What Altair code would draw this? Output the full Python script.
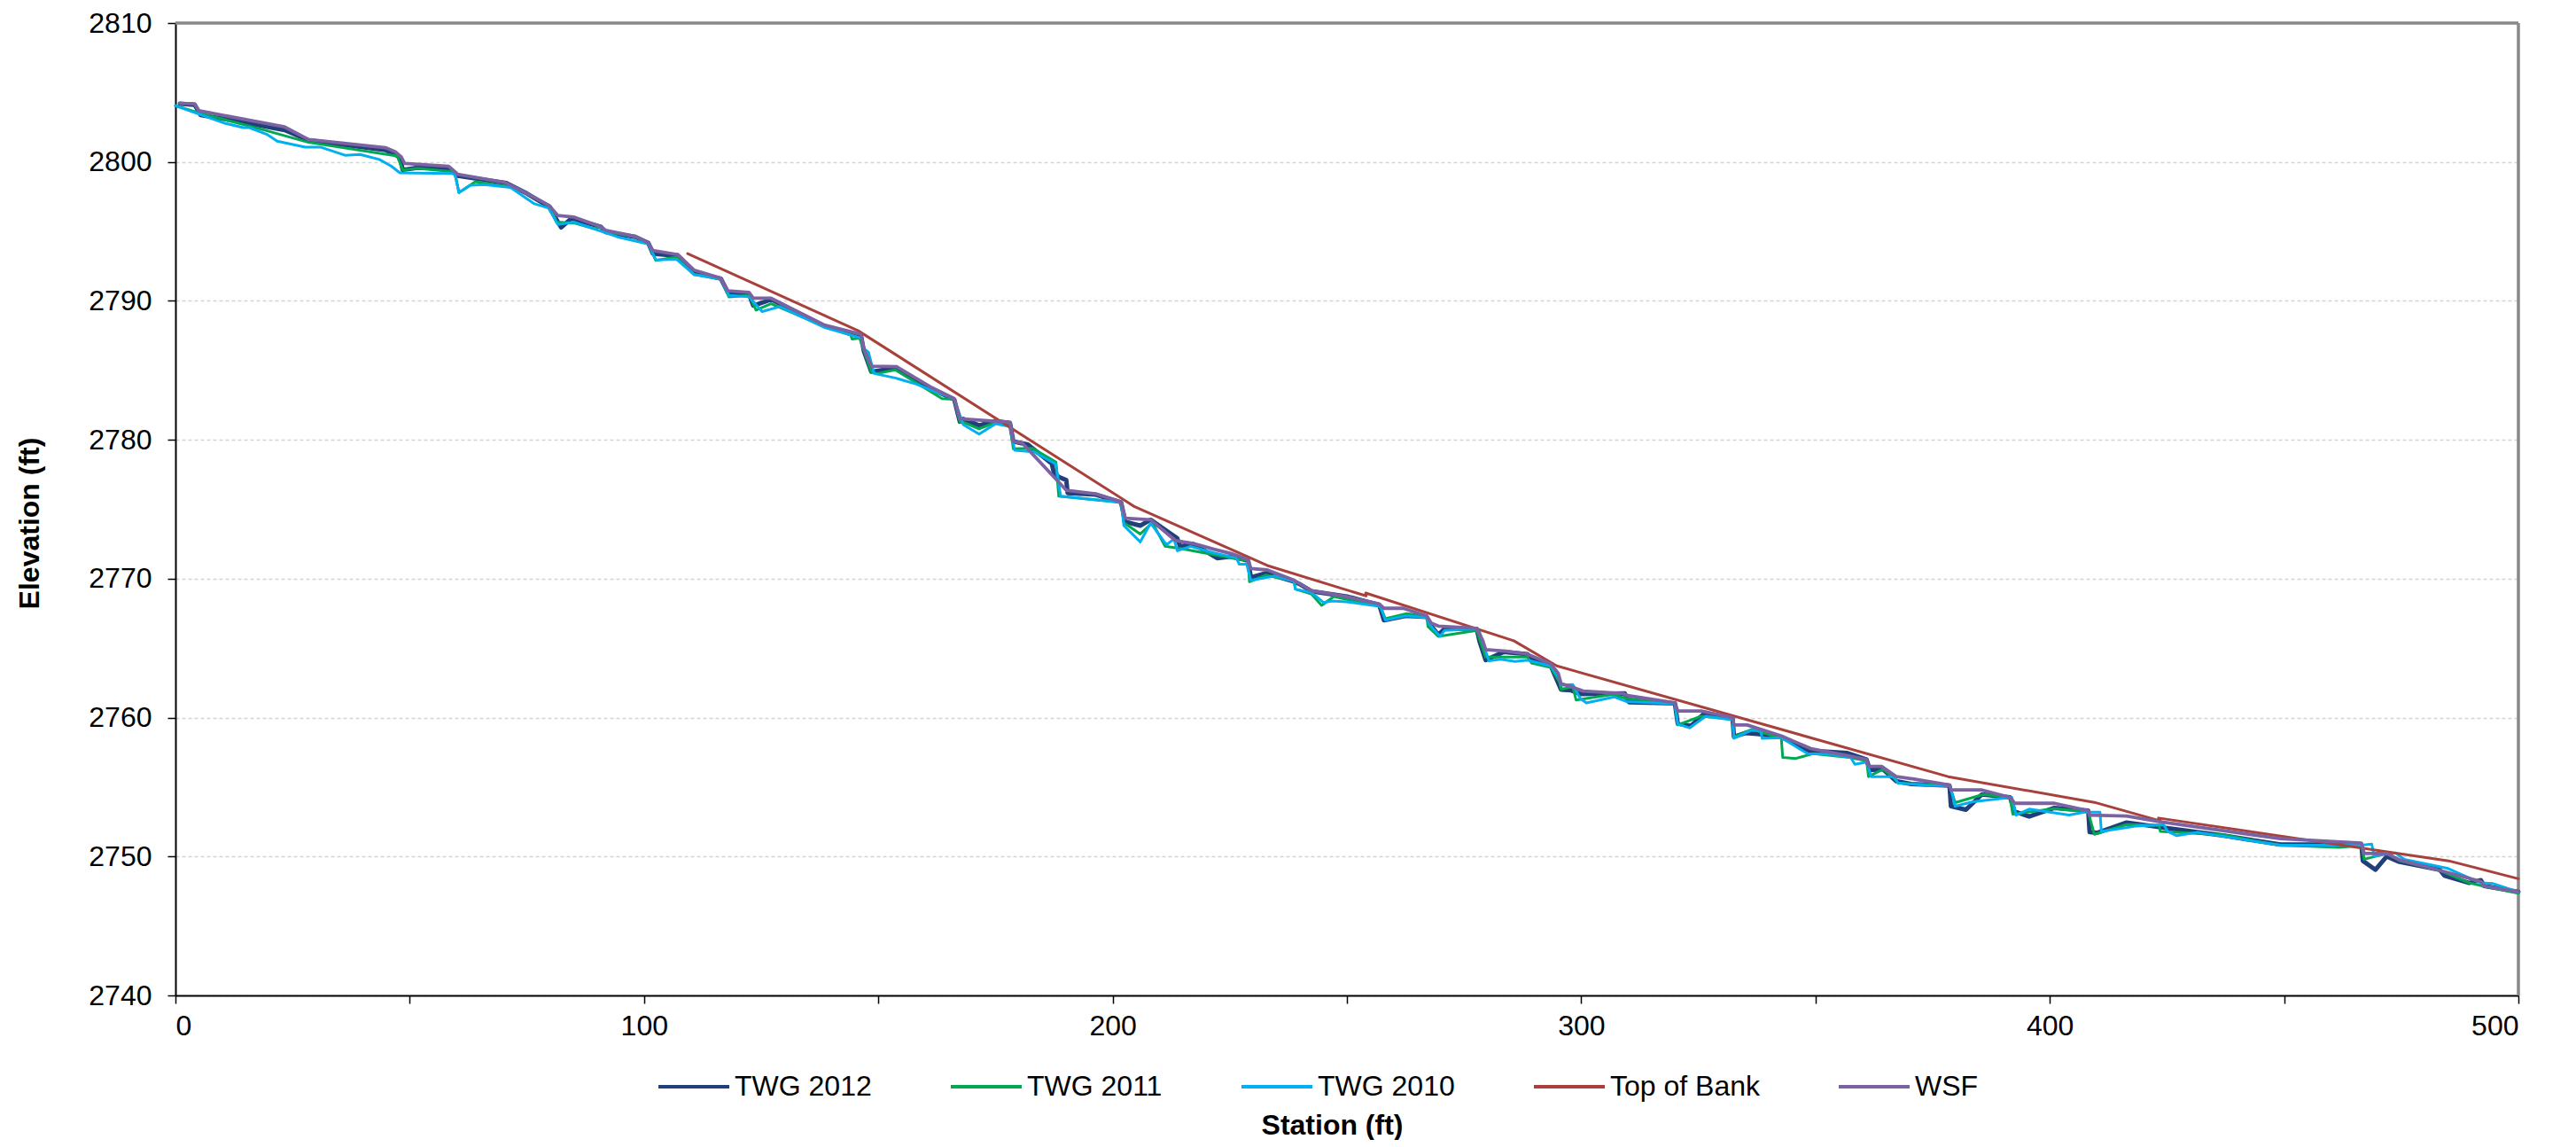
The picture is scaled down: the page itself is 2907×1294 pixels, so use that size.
import altair as alt
import pandas as pd

SERIES = ["TWG 2012", "TWG 2011", "TWG 2010", "Top of Bank", "WSF"]
COLORS = ["#213F7A", "#00A950", "#00B0F0", "#A8413B", "#7B62A2"]
WIDTHS = [5.0, 3.0, 3.0, 3.0, 3.8]

twg2012_st = [0.95, 4.1, 5.4, 11.3, 23.3, 28.4, 44.8, 47.9, 48.5, 51.7, 58.3, 60.2, 70.6, 75.0, 79.7, 82.3, 84.5,
              90.8, 91.8, 98.1, 100.9, 101.9, 107.2, 110.7, 116.4, 117.9, 122.4, 123.3, 125.5, 127.1, 129.6, 138.4,
              146.3, 146.9, 148.5, 151.5, 153.9, 161.1, 166.2, 167.4,
              168.1, 171.5, 175.0, 178.1, 178.8, 181.9, 187.0, 187.5, 188.5, 190.1, 190.4, 196.4, 201.8, 202.7, 205.9,
              208.1, 213.8, 214.4, 217.2, 222.3, 225.4, 228.9, 229.5, 232.7, 238.7, 239.9, 242.4, 250.0,
              256.9, 257.9, 262.6, 267.0, 268.0, 269.5, 270.8, 277.7, 278.3, 279.6, 283.4, 288.5, 289.7, 293.5, 295.7,
              297.9, 299.8, 309.3, 310.2, 320.0, 320.6, 323.4, 326.3, 332.3, 332.6,
              335.1, 337.6, 342.7, 348.6, 356.8, 360.9, 361.6, 364.4, 367.2, 370.4, 378.6, 378.9, 382.1, 385.5, 391.5,
              392.5, 395.6, 401.0, 408.2, 408.5, 410.1, 416.4,
              423.3, 437.2, 449.2, 466.5, 466.8, 469.5, 471.9, 474.4, 483.2, 484.2, 489.5, 492.0, 492.7, 500.0]
twg2012_el = [2804.2, 2804.12, 2803.37, 2803.05, 2802.3, 2801.56, 2800.86, 2800.35, 2799.43, 2799.58, 2799.54, 2799.0,
              2798.48, 2797.73, 2796.78, 2795.29, 2795.93,
              2795.33, 2794.95, 2794.6, 2794.18, 2793.4, 2793.25, 2792.0, 2791.6, 2790.6, 2790.5, 2789.66, 2789.9,
              2790.1, 2789.7, 2788.2, 2787.5, 2786.4, 2784.9, 2785.05, 2785.1, 2783.7, 2782.9, 2781.3,
              2781.5, 2781.04, 2781.35, 2781.2, 2779.88, 2779.66, 2778.28, 2777.6, 2777.33, 2777.1, 2776.16, 2776.05,
              2775.5, 2774.1, 2773.82, 2774.24, 2772.9, 2772.33, 2772.5, 2771.48, 2771.6, 2771.3, 2770.1, 2770.4,
              2769.8, 2769.61, 2769.1, 2768.72,
              2768.12, 2767.01, 2767.33, 2767.25, 2766.6, 2765.95, 2766.38, 2766.38, 2765.5, 2764.14, 2764.72,
              2764.57, 2764.14, 2763.72, 2762.02, 2761.96, 2761.7, 2761.74, 2761.11, 2761.02, 2759.57, 2759.4,
              2760.32, 2759.95, 2758.62,
              2758.89, 2758.83, 2758.6, 2757.62, 2757.45, 2756.98, 2756.22, 2756.28, 2755.43, 2755.22, 2755.1,
              2753.62, 2753.37, 2754.47, 2754.26, 2753.24, 2752.88, 2753.5, 2753.3, 2751.75, 2751.71, 2752.45,
              2752.13, 2751.5, 2750.86, 2750.86, 2749.69, 2749.05, 2750.01, 2749.63, 2749.05, 2748.63, 2748.1,
              2748.3, 2747.88, 2747.46]

twg2011_st = [0.0, 5.7, 18.9, 28.4, 47.3, 48.5, 51.7, 59.6, 60.5, 64.0, 71.2, 74.4, 80.1, 81.3, 85.1,
              89.6, 90.8, 91.8, 98.1, 100.9, 102.5, 106.9, 110.7, 116.4, 118.1, 122.4, 123.9, 127.1, 137.8, 144.1,
              144.4, 146.0, 148.5, 149.8, 153.6, 163.6, 166.2, 167.4,
              168.1, 171.5, 175.0, 178.1, 178.8, 182.9, 187.9, 188.5, 201.8, 202.4, 205.9, 208.5, 211.2, 214.7,
              226.1, 228.9, 229.2, 232.7, 238.7, 239.0, 242.4, 244.6, 247.2, 250.0,
              256.9, 258.2, 262.6, 267.0, 267.3, 269.5, 277.7, 279.6, 288.5, 289.4, 293.5, 295.4, 295.7, 298.2,
              298.9, 306.7, 309.6, 320.0, 320.6, 323.1, 325.6, 332.3, 332.6,
              336.4, 342.7, 343.0, 345.8, 349.6, 357.2, 360.9, 361.3, 364.4, 367.2, 367.6, 378.6, 379.8, 385.8,
              391.5, 392.1, 401.0, 408.2, 409.5, 416.4,
              423.3, 423.6, 437.2, 444.1, 449.2, 461.8, 466.5, 467.1, 471.9, 474.7, 483.2, 489.5, 492.7, 500.0]
twg2011_el = [2804.05, 2803.47, 2802.3, 2801.41, 2800.43, 2799.43, 2799.54, 2799.29, 2797.8, 2798.58, 2798.22,
              2797.84, 2796.78, 2795.67, 2795.6,
              2795.18, 2795.33, 2795.0, 2794.6, 2794.15, 2792.91, 2793.16, 2791.89, 2791.63, 2790.29, 2790.4,
              2789.34, 2789.8, 2788.27, 2787.53, 2787.25, 2787.32, 2784.87, 2784.77, 2785.04, 2782.96, 2782.92,
              2781.3,
              2781.26, 2780.79, 2781.25, 2781.04, 2779.35, 2779.39, 2778.39, 2775.94, 2775.5, 2774.03, 2773.22,
              2774.03, 2772.33, 2772.16, 2771.44, 2771.3, 2769.78, 2770.25, 2769.85, 2769.25, 2768.9, 2768.08,
              2768.72, 2768.5,
              2768.08, 2767.12, 2767.48, 2767.33, 2766.55, 2765.85, 2766.27, 2764.36, 2764.36, 2763.93, 2763.6,
              2762.55, 2762.02, 2762.23, 2761.27, 2761.66, 2761.38, 2761.06, 2759.47, 2759.79, 2760.1, 2759.9,
              2758.62,
              2759.15, 2758.5, 2757.13, 2757.06, 2757.41, 2757.13, 2756.9, 2755.75, 2756.28, 2755.53, 2755.28,
              2755.1, 2753.88, 2754.47, 2754.26, 2753.05, 2753.45, 2753.2, 2751.6, 2752.3,
              2752.25, 2751.8, 2751.55, 2751.11, 2750.82, 2750.65, 2750.8, 2749.8, 2750.22, 2749.7, 2749.0, 2748.1,
              2747.85, 2747.35]

twg2010_st = [0.0, 10.7, 14.5, 15.8, 19.5, 21.7, 27.7, 30.9, 36.2, 39.4, 43.5, 46.0, 47.9, 59.6, 60.5, 63.0, 65.9,
              71.5, 76.6, 79.7, 81.6, 85.1,
              94.3, 100.9, 102.5, 106.9, 110.7, 116.4, 118.1, 122.4, 125.2, 129.0, 138.4, 146.3, 146.9, 147.9,
              149.1, 153.6, 158.0, 162.4, 166.2, 168.1,
              171.5, 175.0, 178.1, 179.1, 183.2, 187.9, 188.9, 201.8, 202.4, 205.9, 208.1, 211.5, 213.1, 213.8,
              216.6, 221.6, 226.4, 227.0, 228.6, 229.5, 234.6, 238.7, 239.0, 242.4, 245.0, 246.9, 250.0,
              257.2, 258.2, 262.6, 267.0, 267.6, 269.9, 270.8, 277.7, 278.3, 279.0, 280.3, 282.8, 285.9, 288.5,
              293.5, 295.4, 295.7, 298.2, 299.8, 301.1, 307.0, 309.6, 320.0, 320.6, 323.1, 326.6, 332.3, 332.6,
              336.4, 338.3, 338.6, 342.7, 348.3, 353.3, 357.5, 358.4, 360.9, 361.9, 366.6, 367.6, 374.2, 378.6,
              378.9, 379.8, 383.6, 391.9, 392.8, 395.6, 404.1, 407.6, 410.7, 411.0, 418.3,
              424.3, 425.2, 427.1, 431.5, 443.5, 449.2, 466.5, 468.7, 469.2, 473.8, 475.6, 484.8, 489.8, 492.0,
              494.6, 500.0]
twg2010_el = [2804.05, 2802.77, 2802.47, 2802.47, 2801.99, 2801.5, 2801.07, 2801.07, 2800.48, 2800.54, 2800.18,
              2799.71, 2799.22, 2799.16, 2797.8, 2798.33, 2798.37, 2798.16, 2796.99, 2796.67, 2795.5, 2795.67,
              2794.61, 2794.1, 2792.95, 2793.0, 2791.89, 2791.55, 2790.4, 2790.3, 2789.23, 2789.59, 2788.1,
              2787.32, 2786.57, 2786.3, 2784.77, 2784.45, 2784.02, 2783.43, 2782.96, 2781.09,
              2780.41, 2781.15, 2780.95, 2779.24, 2779.13, 2778.25, 2775.94, 2775.5, 2773.82, 2772.65, 2774.0,
              2772.44, 2772.86, 2772.01, 2772.33, 2771.86, 2771.5, 2771.05, 2771.05, 2769.88, 2770.2, 2769.8,
              2769.25, 2769.0, 2768.29, 2768.4, 2768.33,
              2768.0, 2767.02, 2767.33, 2767.2, 2766.7, 2765.85, 2766.27, 2766.38, 2766.16, 2765.4, 2764.08,
              2764.2, 2764.04, 2764.14, 2763.72, 2762.76, 2762.34, 2762.38, 2761.38, 2761.06, 2761.49, 2761.16,
              2761.0, 2759.53, 2759.26, 2760.1, 2759.83, 2758.51,
              2759.1, 2759.05, 2758.51, 2758.55, 2757.41, 2757.35, 2757.13, 2756.64, 2756.8, 2755.75, 2755.75,
              2755.3, 2755.1, 2755.1, 2754.9, 2753.62, 2753.94, 2754.26, 2752.98, 2753.41, 2752.98, 2753.2,
              2753.2, 2751.81, 2752.18,
              2752.28, 2751.8, 2751.5, 2751.75, 2751.1, 2750.82, 2750.82, 2750.9, 2750.05, 2750.26, 2749.8,
              2749.16, 2748.41, 2748.1, 2748.05, 2747.46]

bank_st = [109.3, 145.7, 204.6, 233.0, 254.1, 254.0, 285.6, 294.8, 378.3, 409.5, 423.6, 423.2, 485.1, 500.0]
bank_el = [2793.4, 2787.85, 2775.2, 2770.95, 2768.76, 2768.97, 2765.53, 2763.72, 2755.75, 2753.9, 2752.56,
           2752.77, 2749.69, 2748.4]

wsf_st = [0.95, 4.1, 5.0, 23.3, 28.4, 44.8, 47.0, 48.2, 48.9, 58.3, 60.2, 70.3, 74.4, 79.7, 81.6, 85.1,
          90.8, 91.8, 98.1, 100.9, 101.9, 107.2, 110.7, 116.4, 117.9, 122.4, 123.3, 127.1, 129.6, 138.4, 146.3,
          146.9, 148.5, 153.9, 161.1, 166.2, 167.4,
          178.1, 178.8, 180.7, 190.1, 196.4, 201.8, 202.7, 208.1, 213.4, 217.2, 221.6, 225.4, 228.9, 229.5,
          233.0, 238.7, 242.4, 250.0,
          256.9, 257.9, 262.0, 267.0, 268.0, 269.5, 277.7, 279.0, 279.6, 284.0, 288.5, 293.5, 295.1, 295.7,
          297.9, 300.4, 308.9, 309.9, 320.0, 320.6, 325.6, 332.3, 332.6,
          335.4, 342.7, 349.0, 357.2, 360.9, 361.3, 364.1, 367.2, 371.0, 378.6, 378.9, 385.5, 391.5, 392.5,
          401.0, 408.2, 408.5, 416.4,
          423.3, 449.2, 466.5, 467.1, 471.9, 474.7, 483.8, 492.0, 492.7, 500.0]
wsf_el = [2804.22, 2804.18, 2803.69, 2802.52, 2801.62, 2801.03, 2800.71, 2800.35, 2799.9, 2799.69, 2799.12,
          2798.52, 2797.84, 2796.88, 2796.14, 2796.03,
          2795.33, 2795.08, 2794.65, 2794.18, 2793.63, 2793.33, 2792.21, 2791.63, 2790.72, 2790.61, 2790.19,
          2790.19, 2789.76, 2788.27, 2787.59, 2786.57, 2785.3, 2785.26, 2783.81, 2782.96, 2781.51,
          2781.26, 2779.88, 2779.77, 2776.37, 2776.11, 2775.52, 2774.35, 2774.24, 2772.75, 2772.54, 2772.12,
          2771.8, 2771.37, 2770.73, 2770.63, 2769.89, 2769.14, 2768.7,
          2768.18, 2767.87, 2767.87, 2767.33, 2766.8, 2766.59, 2766.42, 2765.53, 2764.89, 2764.78, 2764.57,
          2763.87, 2763.19, 2762.44, 2762.23, 2761.91, 2761.74, 2761.59, 2761.06, 2760.47, 2760.47, 2760.0,
          2759.47,
          2759.47, 2758.68, 2757.77, 2757.24, 2756.98, 2756.49, 2756.49, 2755.75, 2755.58, 2755.15, 2754.79,
          2754.79, 2754.26, 2753.83, 2753.83, 2753.3, 2752.98, 2752.92,
          2752.52, 2751.28, 2750.97, 2750.22, 2750.22, 2749.75, 2748.95, 2748.2, 2747.88, 2747.46]

rows = []
for name, st, el in [("TWG 2012", twg2012_st, twg2012_el), ("TWG 2011", twg2011_st, twg2011_el),
                     ("TWG 2010", twg2010_st, twg2010_el), ("Top of Bank", bank_st, bank_el),
                     ("WSF", wsf_st, wsf_el)]:
    for i, (s, e) in enumerate(zip(st, el)):
        rows.append({"series": name, "station": s, "elev": e, "idx": i})
df = pd.DataFrame(rows)

FONT = "Liberation Sans"
W, H = 2644, 1097

x = alt.X("station:Q", scale=alt.Scale(domain=[0, 500], nice=False),
          axis=alt.Axis(title="Station (ft)", values=list(range(0, 501, 50)), format="d",
                        labelExpr="datum.value % 100 == 0 ? datum.label : ''",
                        grid=False, tickSize=9, tickColor="#000000", tickWidth=1.5,
                        domainColor="#000000", domainWidth=2, labelPadding=10,
                        labelFontSize=32, labelFont=FONT, labelColor="#000000",
                        titleFontSize=32, titleFont=FONT, titleFontWeight="bold", titleColor="#000000",
                        titleX=1305, titleY=146, titleBaseline="middle", titleAnchor="start",
                        titleAlign="center"))
y = alt.Y("elev:Q", scale=alt.Scale(domain=[2740, 2810], nice=False, zero=False),
          axis=alt.Axis(title="Elevation (ft)", values=list(range(2740, 2811, 10)), format="d",
                        grid=True, gridColor="#D4D4D4", gridDash=[4, 3], gridWidth=1.5,
                        tickSize=9, tickColor="#000000", tickWidth=1.5,
                        domainColor="#000000", domainWidth=2, labelPadding=18,
                        labelFontSize=32, labelFont=FONT, labelColor="#000000",
                        titleFontSize=32, titleFont=FONT, titleFontWeight="bold", titleColor="#000000",
                        titleAngle=270, titleX=-165, titleY=564, titleBaseline="middle",
                        titleAlign="center", titleAnchor="start"))
color = alt.Color("series:N", scale=alt.Scale(domain=SERIES, range=COLORS),
                  legend=alt.Legend(title=None, orient="none", legendX=543, legendY=1158,
                                    direction="horizontal", columns=5, symbolType="stroke",
                                    symbolSize=6400, symbolStrokeWidth=4, labelOffset=4,
                                    columnPadding=81, labelFontSize=32, labelFont=FONT,
                                    labelLimit=0, labelColor="#000000", padding=0))

border = alt.Chart(pd.DataFrame({"k": [0]})).mark_rule(color="#888888", strokeWidth=3.5)
top_border = border.encode(x=alt.value(0), x2=alt.value(W), y=alt.value(0))
right_border = border.encode(x=alt.value(W), y=alt.value(0), y2=alt.value(H))

layers = [top_border, right_border]
for name, w in zip(SERIES, WIDTHS):
    layers.append(
        alt.Chart(df).transform_filter(alt.datum.series == name)
        .mark_line(strokeWidth=w, strokeJoin="round", strokeCap="round")
        .encode(x=x, y=y, color=color, order=alt.Order("idx:Q"))
    )

chart = alt.layer(*layers).properties(
    width=W, height=H,
    padding={"left": 190, "top": 18, "right": 57, "bottom": 163},
    autosize=alt.AutoSizeParams(type="none"),
).configure_view(stroke=None).configure(background="white")

chart.save("out.html", embed_options={"renderer": "svg", "actions": False})
